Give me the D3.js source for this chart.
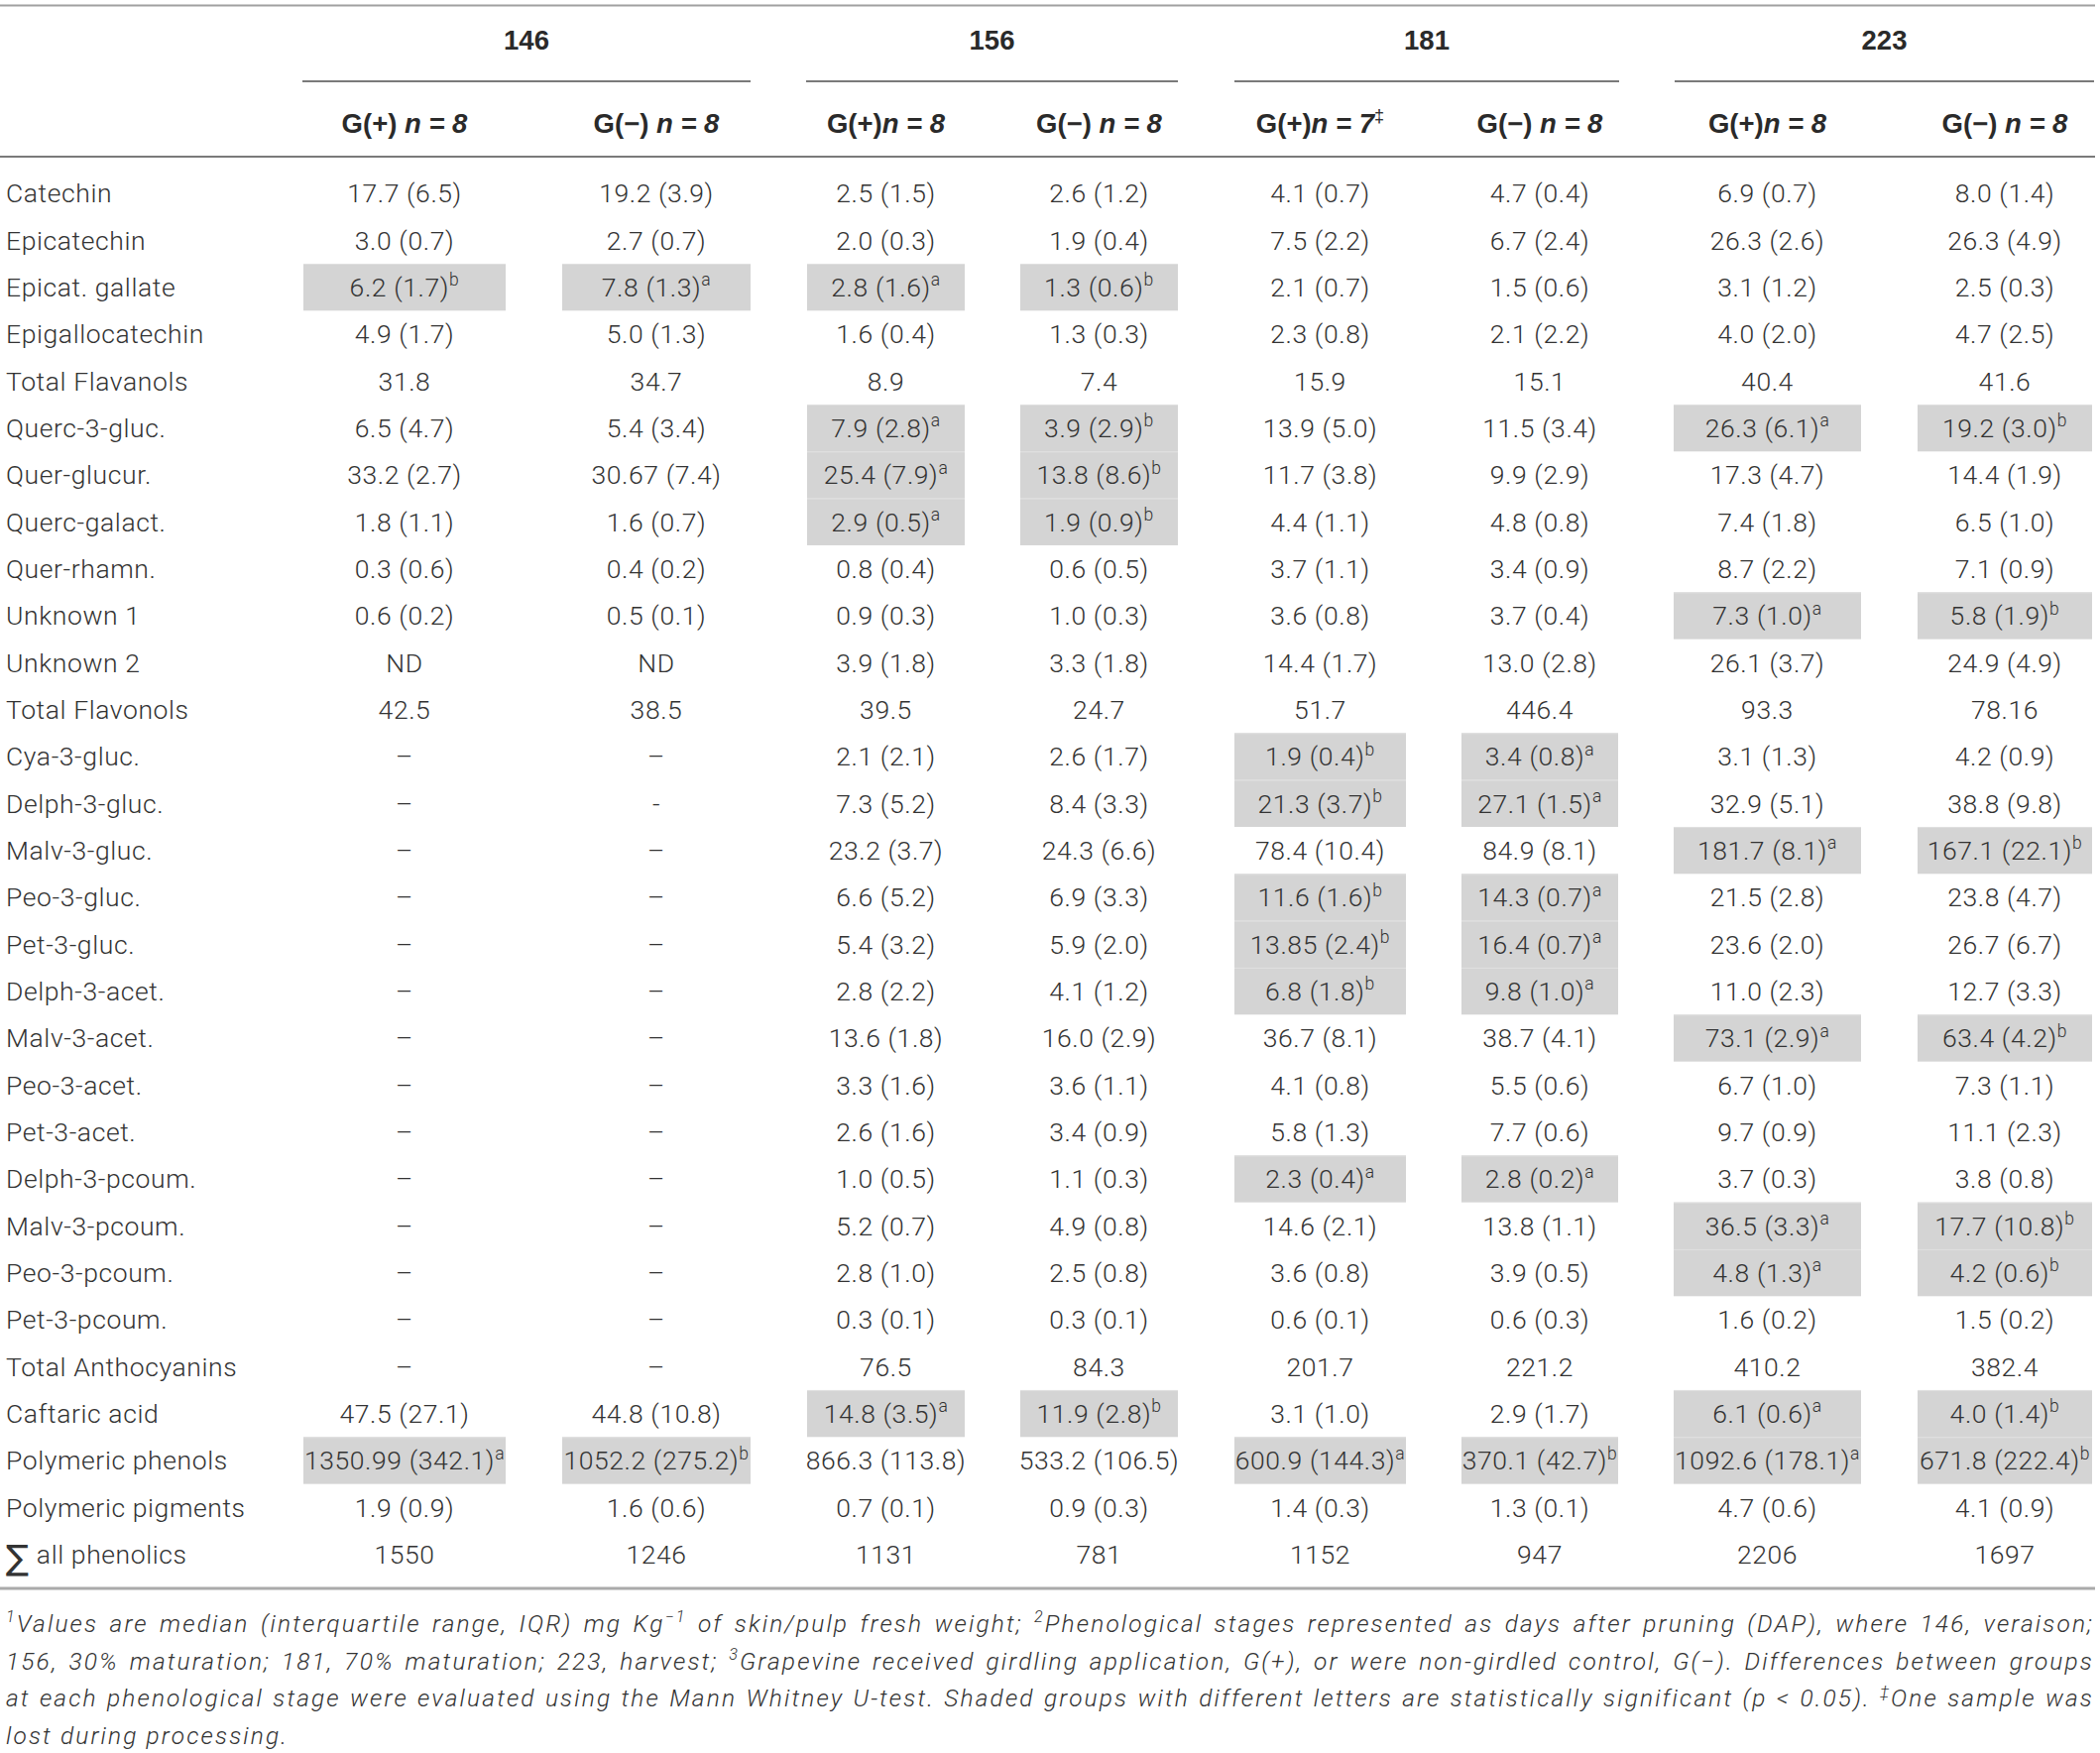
<!DOCTYPE html>
<html>
<head>
<meta charset="utf-8">
<script src="https://cdn.jsdelivr.net/npm/d3@7"></script>
<style>
  html, body { margin: 0; padding: 0; background: #fff; }
  svg { display: block; }
  text { font-family: "Roboto", "Liberation Sans", sans-serif; fill: #333; }
  text.head { font-family: "Liberation Sans", "Roboto", sans-serif; fill: #2a2a2a; }
</style>
</head>
<body>
<div id="chart"></div>
<script>
// stages (days after pruning) and the two treatments per stage
var stages = ["146", "156", "181", "223"];

// sub header per column; parts: [text, style] where style b = bold,
// bi = bold italic, sup = superscript
var colHeads = [
	[["G(+) ", "b"], ["n = 8", "bi"]],
	[["G(\u2212) ", "b"], ["n = 8", "bi"]],
	[["G(+)", "b"], ["n = 8", "bi"]],
	[["G(\u2212) ", "b"], ["n = 8", "bi"]],
	[["G(+)", "b"], ["n = 7", "bi"], ["\u2021", "sup"]],
	[["G(\u2212) ", "b"], ["n = 8", "bi"]],
	[["G(+)", "b"], ["n = 8", "bi"]],
	[["G(\u2212) ", "b"], ["n = 8", "bi"]]
];

var compounds = [
	"Catechin", "Epicatechin", "Epicat. gallate", "Epigallocatechin",
	"Total Flavanols", "Querc-3-gluc.", "Quer-glucur.", "Querc-galact.",
	"Quer-rhamn.", "Unknown 1", "Unknown 2", "Total Flavonols",
	"Cya-3-gluc.", "Delph-3-gluc.", "Malv-3-gluc.", "Peo-3-gluc.",
	"Pet-3-gluc.", "Delph-3-acet.", "Malv-3-acet.", "Peo-3-acet.",
	"Pet-3-acet.", "Delph-3-pcoum.", "Malv-3-pcoum.", "Peo-3-pcoum.",
	"Pet-3-pcoum.", "Total Anthocyanins", "Caftaric acid",
	"Polymeric phenols", "Polymeric pigments", "\u2211 all phenolics"
];

// median (IQR); "^x" marks the significance letter (shaded cell)
var D = "\u2013";
var g146plus = ["17.7 (6.5)", "3.0 (0.7)", "6.2 (1.7)^b", "4.9 (1.7)", "31.8",
	"6.5 (4.7)", "33.2 (2.7)", "1.8 (1.1)", "0.3 (0.6)", "0.6 (0.2)", "ND", "42.5",
	D, D, D, D, D, D, D, D, D, D, D, D, D, D,
	"47.5 (27.1)", "1350.99 (342.1)^a", "1.9 (0.9)", "1550"];
var g146minus = ["19.2 (3.9)", "2.7 (0.7)", "7.8 (1.3)^a", "5.0 (1.3)", "34.7",
	"5.4 (3.4)", "30.67 (7.4)", "1.6 (0.7)", "0.4 (0.2)", "0.5 (0.1)", "ND", "38.5",
	D, "-", D, D, D, D, D, D, D, D, D, D, D, D,
	"44.8 (10.8)", "1052.2 (275.2)^b", "1.6 (0.6)", "1246"];
var g156plus = ["2.5 (1.5)", "2.0 (0.3)", "2.8 (1.6)^a", "1.6 (0.4)", "8.9",
	"7.9 (2.8)^a", "25.4 (7.9)^a", "2.9 (0.5)^a", "0.8 (0.4)", "0.9 (0.3)", "3.9 (1.8)", "39.5",
	"2.1 (2.1)", "7.3 (5.2)", "23.2 (3.7)", "6.6 (5.2)", "5.4 (3.2)", "2.8 (2.2)",
	"13.6 (1.8)", "3.3 (1.6)", "2.6 (1.6)", "1.0 (0.5)", "5.2 (0.7)", "2.8 (1.0)",
	"0.3 (0.1)", "76.5", "14.8 (3.5)^a", "866.3 (113.8)", "0.7 (0.1)", "1131"];
var g156minus = ["2.6 (1.2)", "1.9 (0.4)", "1.3 (0.6)^b", "1.3 (0.3)", "7.4",
	"3.9 (2.9)^b", "13.8 (8.6)^b", "1.9 (0.9)^b", "0.6 (0.5)", "1.0 (0.3)", "3.3 (1.8)", "24.7",
	"2.6 (1.7)", "8.4 (3.3)", "24.3 (6.6)", "6.9 (3.3)", "5.9 (2.0)", "4.1 (1.2)",
	"16.0 (2.9)", "3.6 (1.1)", "3.4 (0.9)", "1.1 (0.3)", "4.9 (0.8)", "2.5 (0.8)",
	"0.3 (0.1)", "84.3", "11.9 (2.8)^b", "533.2 (106.5)", "0.9 (0.3)", "781"];
var g181plus = ["4.1 (0.7)", "7.5 (2.2)", "2.1 (0.7)", "2.3 (0.8)", "15.9",
	"13.9 (5.0)", "11.7 (3.8)", "4.4 (1.1)", "3.7 (1.1)", "3.6 (0.8)", "14.4 (1.7)", "51.7",
	"1.9 (0.4)^b", "21.3 (3.7)^b", "78.4 (10.4)", "11.6 (1.6)^b", "13.85 (2.4)^b", "6.8 (1.8)^b",
	"36.7 (8.1)", "4.1 (0.8)", "5.8 (1.3)", "2.3 (0.4)^a", "14.6 (2.1)", "3.6 (0.8)",
	"0.6 (0.1)", "201.7", "3.1 (1.0)", "600.9 (144.3)^a", "1.4 (0.3)", "1152"];
var g181minus = ["4.7 (0.4)", "6.7 (2.4)", "1.5 (0.6)", "2.1 (2.2)", "15.1",
	"11.5 (3.4)", "9.9 (2.9)", "4.8 (0.8)", "3.4 (0.9)", "3.7 (0.4)", "13.0 (2.8)", "446.4",
	"3.4 (0.8)^a", "27.1 (1.5)^a", "84.9 (8.1)", "14.3 (0.7)^a", "16.4 (0.7)^a", "9.8 (1.0)^a",
	"38.7 (4.1)", "5.5 (0.6)", "7.7 (0.6)", "2.8 (0.2)^a", "13.8 (1.1)", "3.9 (0.5)",
	"0.6 (0.3)", "221.2", "2.9 (1.7)", "370.1 (42.7)^b", "1.3 (0.1)", "947"];
var g223plus = ["6.9 (0.7)", "26.3 (2.6)", "3.1 (1.2)", "4.0 (2.0)", "40.4",
	"26.3 (6.1)^a", "17.3 (4.7)", "7.4 (1.8)", "8.7 (2.2)", "7.3 (1.0)^a", "26.1 (3.7)", "93.3",
	"3.1 (1.3)", "32.9 (5.1)", "181.7 (8.1)^a", "21.5 (2.8)", "23.6 (2.0)", "11.0 (2.3)",
	"73.1 (2.9)^a", "6.7 (1.0)", "9.7 (0.9)", "3.7 (0.3)", "36.5 (3.3)^a", "4.8 (1.3)^a",
	"1.6 (0.2)", "410.2", "6.1 (0.6)^a", "1092.6 (178.1)^a", "4.7 (0.6)", "2206"];
var g223minus = ["8.0 (1.4)", "26.3 (4.9)", "2.5 (0.3)", "4.7 (2.5)", "41.6",
	"19.2 (3.0)^b", "14.4 (1.9)", "6.5 (1.0)", "7.1 (0.9)", "5.8 (1.9)^b", "24.9 (4.9)", "78.16",
	"4.2 (0.9)", "38.8 (9.8)", "167.1 (22.1)^b", "23.8 (4.7)", "26.7 (6.7)", "12.7 (3.3)",
	"63.4 (4.2)^b", "7.3 (1.1)", "11.1 (2.3)", "3.8 (0.8)", "17.7 (10.8)^b", "4.2 (0.6)^b",
	"1.5 (0.2)", "382.4", "4.0 (1.4)^b", "671.8 (222.4)^b", "4.1 (0.9)", "1697"];

var columns = [g146plus, g146minus, g156plus, g156minus, g181plus, g181minus, g223plus, g223minus];

// footnote lines; "sup" parts are superscripts
var footLines = [
	[["1", "sup"], ["Values are median (interquartile range, IQR) mg Kg"], ["\u22121", "sup"],
		[" of skin/pulp fresh weight; "], ["2", "sup"],
		["Phenological stages represented as days after pruning (DAP), where 146, veraison;"]],
	[["156, 30% maturation; 181, 70% maturation; 223, harvest; "], ["3", "sup"],
		["Grapevine received girdling application, G(+), or were non-girdled control, G(\u2212). Differences between groups"]],
	[["at each phenological stage were evaluated using the Mann Whitney U-test. Shaded groups with different letters are statistically significant (p < 0.05). "],
		["\u2021", "sup"], ["One sample was"]],
	[["lost during processing."]]
];

// ---- layout ----
var width = 2118, height = 1768;
var fontSize = 26.5;
var headSize = 27.5;
var colStarts = [306, 567, 814, 1029, 1245, 1474, 1688, 1934];
var colEnds = [510, 757, 973, 1188, 1418, 1632, 1877, 2110];
var groupSpans = [[305, 757], [813, 1188], [1245, 1633], [1689, 2112]];

var svg = d3.select("#chart").append("svg")
	.attr("width", width)
	.attr("height", height);

var y = d3.scaleBand()
	.domain(d3.range(compounds.length))
	.range([171.3, 1591.3]);

var colMid = function (i) {
	return (colStarts[i] + colEnds[i]) / 2;
};

// append a run of styled parts to a text element
var addParts = function (textSel, parts, size) {
	var raised = false;
	parts.forEach(function (p) {
		var ts = textSel.append("tspan").text(p[0]);
		var style = p[1] || "";
		if (style === "b" || style === "bi") {
			ts.attr("font-weight", 700);
		}
		if (style === "bi") {
			ts.attr("font-style", "italic");
		}
		if (style === "sup") {
			ts.attr("font-size", (size * 0.66) + "px").attr("dy", -size * 0.4);
			raised = true;
		} else if (raised) {
			ts.attr("dy", size * 0.4);
			raised = false;
		}
	});
};

// rules
var rule = function (x1, x2, yy, color, w) {
	svg.append("line")
		.attr("x1", x1).attr("x2", x2)
		.attr("y1", yy).attr("y2", yy)
		.attr("stroke", color)
		.attr("stroke-width", w);
};
rule(0, 2113, 5.5, "#a0a0a0", 2);
groupSpans.forEach(function (s) {
	rule(s[0], s[1], 82, "#7a7a7a", 2);
});
rule(0, 2113, 158, "#7a7a7a", 2);
rule(0, 2113, 1602, "#aaaaaa", 3);

// stage headers
svg.selectAll("text.stage")
	.data(stages)
	.enter().append("text")
	.attr("class", "stage head")
	.attr("x", function (d, i) { return (groupSpans[i][0] + groupSpans[i][1]) / 2; })
	.attr("y", 50)
	.attr("text-anchor", "middle")
	.attr("font-size", headSize + "px")
	.attr("font-weight", 700)
	.text(function (d) { return d; });

// column sub headers
colHeads.forEach(function (parts, i) {
	var t = svg.append("text")
		.attr("class", "head")
		.attr("x", colMid(i))
		.attr("y", 134)
		.attr("text-anchor", "middle")
		.attr("font-size", headSize + "px");
	addParts(t, parts, headSize);
});

// shaded cells
var shaded = [];
columns.forEach(function (col, ci) {
	col.forEach(function (v, ri) {
		if (v.indexOf("^") !== -1) {
			shaded.push({c: ci, r: ri});
		}
	});
});

svg.selectAll("rect.shade")
	.data(shaded)
	.enter().append("rect")
	.attr("class", "shade")
	.attr("x", function (d) { return colStarts[d.c]; })
	.attr("y", function (d) { return y(d.r); })
	.attr("width", function (d) { return colEnds[d.c] - colStarts[d.c]; })
	.attr("height", y.bandwidth())
	.attr("fill", "#d4d4d4");

svg.selectAll("line.shadesep")
	.data(shaded)
	.enter().append("line")
	.attr("class", "shadesep")
	.attr("x1", function (d) { return colStarts[d.c]; })
	.attr("x2", function (d) { return colEnds[d.c]; })
	.attr("y1", function (d) { return y(d.r) + 0.5; })
	.attr("y2", function (d) { return y(d.r) + 0.5; })
	.attr("stroke", "#e0e0e0")
	.attr("stroke-width", 1);

var baseOff = y.bandwidth() / 2 + fontSize * 0.355;

// row labels
svg.selectAll("text.label")
	.data(compounds)
	.enter().append("text")
	.attr("class", "label")
	.attr("x", 6)
	.attr("y", function (d, i) { return y(i) + baseOff; })
	.attr("font-size", fontSize + "px")
	.attr("font-weight", 300)
	.attr("letter-spacing", "0.6px")
	.each(function (d) {
		var t = d3.select(this);
		if (d.charAt(0) === "\u2211") {
			// the summation sign is set larger and dips below the baseline
			t.append("tspan")
				.attr("font-family", "DejaVu Sans")
				.attr("font-weight", 400)
				.attr("font-size", (fontSize * 1.3) + "px")
				.attr("dy", 6)
				.text("\u2211");
			t.append("tspan")
				.attr("dy", -6)
				.text(d.slice(1));
		} else {
			t.text(d);
		}
	});

// cell values
columns.forEach(function (col, ci) {
	col.forEach(function (v, ri) {
		var bits = v.split("^");
		var t = svg.append("text")
			.attr("x", colMid(ci))
			.attr("y", y(ri) + baseOff)
			.attr("text-anchor", "middle")
			.attr("font-size", fontSize + "px")
			.attr("font-weight", 300)
			.attr("letter-spacing", "0.6px");
		var parts = [[bits[0]]];
		if (bits.length > 1) {
			parts.push([bits[1], "sup"]);
		}
		addParts(t, parts, fontSize);
	});
});

// footnote, justified across the table width
var footSize = 24.5;
var footLeft = 6, footRight = 2112;
var lineText = function (li) {
	return footLines[li].map(function (p) { return p[0]; }).join("");
};
var footTexts = footLines.map(function (parts, li) {
	var t = svg.append("text")
		.attr("x", footLeft)
		.attr("y", 1646 + li * 37.7)
		.attr("font-size", footSize + "px")
		.attr("font-style", "italic")
		.attr("font-weight", 300);
	addParts(t, parts, footSize);
	return t;
});

// widen the letters so that the longest full line nearly fills the width,
// then spread what is left over the word gaps of each full line
var letterSp = d3.min(footTexts.slice(0, 3), function (t, li) {
	var natural = t.node().getComputedTextLength();
	return (footRight - footLeft - 30 - natural) / lineText(li).length;
});
letterSp = Math.max(0, letterSp);
footTexts.forEach(function (t, li) {
	t.attr("letter-spacing", letterSp + "px");
	if (li < footLines.length - 1) {
		var natural = t.node().getComputedTextLength();
		var spaces = lineText(li).split(" ").length - 1;
		var extra = Math.max(0, (footRight - footLeft - natural) / spaces);
		t.attr("word-spacing", extra + "px");
	}
});
</script>
</body>
</html>
